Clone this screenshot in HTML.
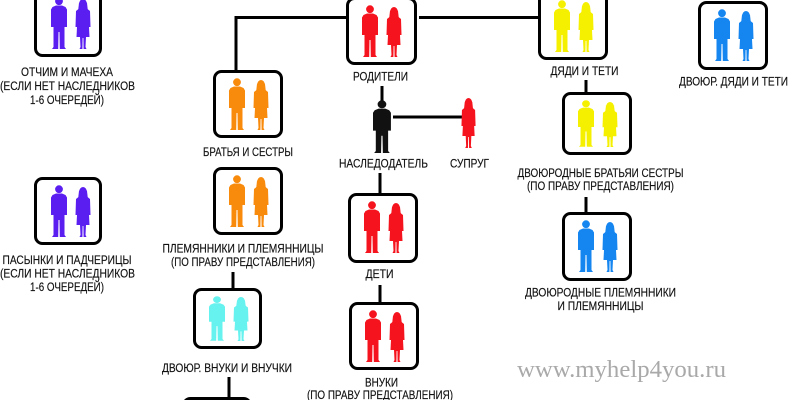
<!DOCTYPE html>
<html><head><meta charset="utf-8">
<style>
html,body{margin:0;padding:0;background:#fff;width:800px;height:400px;overflow:hidden;}
svg{display:block;overflow:hidden;}
text{font-family:"Liberation Sans","Noto Sans CJK SC",sans-serif;font-size:11.5px;fill:#111;stroke:#111;stroke-width:0.15px;}
.wm{font-family:"Liberation Serif",serif;font-size:24px;fill:#a9a9a9;stroke:none;}
</style></head>
<body>
<svg width="800" height="400" viewBox="0 0 800 400" xmlns="http://www.w3.org/2000/svg">
<defs>
<g id="man">
<circle cx="8" cy="4.2" r="3.9"/>
<path d="M5,8.5 L11,8.5 L14.5,10 L16,12.5 L16,30 L13.5,30 L13.5,50 L15,52 L8.8,52 L8.5,35 L7.5,35 L7.2,52 L1,52 L2.5,50 L2.5,30 L0,30 L0,12.5 L1.5,10 Z"/>
</g>
<g id="woman">
<ellipse cx="8" cy="4.8" rx="3.8" ry="4.8"/>
<path d="M4,4 Q8,-1 12,4 L12.8,11 L3.2,11 Z"/>
<path d="M3.5,10 L12.5,10 L15,12 L15.5,28 L14,28 L14.5,38 L11,38 L10.5,48 L11.5,50 L8.6,50 L8.4,39 L7.6,39 L7.4,50 L4.5,50 L5.5,48 L5,38 L1.5,38 L2,28 L0.5,28 L1,12 Z"/>
</g>
</defs>

<!-- connectors -->
<g stroke="#000" stroke-width="3" fill="none">
<path d="M236,70 V17.5 H348"/>
<path d="M419,17.5 H538"/>
<path d="M382,86 V106"/>
<path d="M393,117 H462"/>
<path d="M380,173 V193"/>
<path d="M380,285 V302"/>
<path d="M233,272 V288"/>
<path d="M229,377 V397"/>
<path d="M586,80 V92"/>
<path d="M586,197 V212"/>
</g>

<!-- boxes -->
<g stroke="#000" stroke-width="3" fill="#fff">
<rect x="35.5" y="-9.5" width="65" height="65" rx="7"/>
<rect x="35.5" y="178.5" width="65" height="65" rx="7"/>
<rect x="214.5" y="71.5" width="67" height="65" rx="7"/>
<rect x="214.5" y="168.5" width="67" height="65" rx="7"/>
<rect x="194.5" y="289.5" width="66" height="58" rx="7"/>
<rect x="183.5" y="398.5" width="67" height="20" rx="7"/>
<rect x="347.5" y="-1.5" width="68" height="65" rx="7"/>
<rect x="349.5" y="194.5" width="67" height="67" rx="7"/>
<rect x="350.5" y="303.5" width="67" height="65" rx="7"/>
<rect x="539.5" y="-6.5" width="67" height="65" rx="7"/>
<rect x="563.5" y="93.5" width="67" height="60" rx="7"/>
<rect x="563.5" y="213.5" width="67" height="66" rx="7"/>
<rect x="699.5" y="2.5" width="67" height="66" rx="7"/>
</g>

<!-- figures -->
<g fill="#5a1ef0">
<use href="#man" transform="translate(51,-3)"/>
<use href="#woman" transform="translate(75,-1)"/>
<use href="#man" transform="translate(51,185)"/>
<use href="#woman" transform="translate(75,187)"/>
</g>
<g fill="#f88a0c">
<use href="#man" transform="translate(229,78)"/>
<use href="#woman" transform="translate(253,80)"/>
<use href="#man" transform="translate(229,175)"/>
<use href="#woman" transform="translate(253,177)"/>
</g>
<g fill="#66f2ee">
<use href="#man" transform="translate(209,296) scale(1,0.86)"/>
<use href="#woman" transform="translate(233,297) scale(1,0.88)"/>
</g>
<g fill="#f5141e">
<use href="#man" transform="translate(362,5)"/>
<use href="#woman" transform="translate(386,7)"/>
<use href="#man" transform="translate(364,201)"/>
<use href="#woman" transform="translate(388,203)"/>
<use href="#man" transform="translate(365,310)"/>
<use href="#woman" transform="translate(389,312)"/>
<use href="#woman" transform="translate(461,98) scale(0.94,1)"/>
</g>
<g fill="#111">
<use href="#man" transform="translate(373,100) scale(1.12,1.02)"/>
</g>
<g fill="#f5f000">
<use href="#man" transform="translate(554,0)"/>
<use href="#woman" transform="translate(578,2)"/>
<use href="#man" transform="translate(578,100) scale(1,0.9)"/>
<use href="#woman" transform="translate(602,102) scale(1,0.9)"/>
</g>
<g fill="#1585f0">
<use href="#man" transform="translate(578,220)"/>
<use href="#woman" transform="translate(602,222)"/>
<use href="#man" transform="translate(714,9)"/>
<use href="#woman" transform="translate(738,11)"/>
</g>

<!-- labels -->
<g text-anchor="middle">
<text x="67" y="76" textLength="92" lengthAdjust="spacingAndGlyphs">ОТЧИМ И МАЧЕХА</text>
<text x="67.5" y="90" textLength="135" lengthAdjust="spacingAndGlyphs">(ЕСЛИ НЕТ НАСЛЕДНИКОВ</text>
<text x="67" y="104" textLength="74" lengthAdjust="spacingAndGlyphs">1-6 ОЧЕРЕДЕЙ)</text>

<text x="67" y="264" textLength="129" lengthAdjust="spacingAndGlyphs">ПАСЫНКИ И ПАДЧЕРИЦЫ</text>
<text x="67.5" y="277.5" textLength="135" lengthAdjust="spacingAndGlyphs">(ЕСЛИ НЕТ НАСЛЕДНИКОВ</text>
<text x="67" y="291" textLength="74" lengthAdjust="spacingAndGlyphs">1-6 ОЧЕРЕДЕЙ)</text>

<text x="248" y="156" textLength="90" lengthAdjust="spacingAndGlyphs">БРАТЬЯ И СЕСТРЫ</text>
<text x="243" y="252.5" textLength="161" lengthAdjust="spacingAndGlyphs">ПЛЕМЯННИКИ И ПЛЕМЯННИЦЫ</text>
<text x="243" y="266" textLength="144" lengthAdjust="spacingAndGlyphs">(ПО ПРАВУ ПРЕДСТАВЛЕНИЯ)</text>
<text x="227" y="372" textLength="130" lengthAdjust="spacingAndGlyphs">ДВОЮР. ВНУКИ И ВНУЧКИ</text>

<text x="380.5" y="80.5" textLength="55" lengthAdjust="spacingAndGlyphs">РОДИТЕЛИ</text>
<text x="383.5" y="167.5" textLength="89" lengthAdjust="spacingAndGlyphs">НАСЛЕДОДАТЕЛЬ</text>
<text x="469.5" y="167.5" textLength="39" lengthAdjust="spacingAndGlyphs">СУПРУГ</text>
<text x="379.5" y="278" textLength="28" lengthAdjust="spacingAndGlyphs">ДЕТИ</text>
<text x="381.5" y="386.5" textLength="33" lengthAdjust="spacingAndGlyphs">ВНУКИ</text>
<text x="380" y="399" textLength="146" lengthAdjust="spacingAndGlyphs">(ПО ПРАВУ ПРЕДСТАВЛЕНИЯ)</text>

<text x="584.5" y="75" textLength="68" lengthAdjust="spacingAndGlyphs">ДЯДИ И ТЕТИ</text>
<text x="600.5" y="177" textLength="166" lengthAdjust="spacingAndGlyphs">ДВОЮРОДНЫЕ БРАТЬЯИ СЕСТРЫ</text>
<text x="600.5" y="190" textLength="147" lengthAdjust="spacingAndGlyphs">(ПО ПРАВУ ПРЕДСТАВЛЕНИЯ)</text>
<text x="733.5" y="85.5" textLength="109" lengthAdjust="spacingAndGlyphs">ДВОЮР. ДЯДИ И ТЕТИ</text>
<text x="600.5" y="296.5" textLength="151" lengthAdjust="spacingAndGlyphs">ДВОЮРОДНЫЕ ПЛЕМЯННИКИ</text>
<text x="600.5" y="310" textLength="86" lengthAdjust="spacingAndGlyphs">И ПЛЕМЯННИЦЫ</text>

<text class="wm" x="621.5" y="377" textLength="209" lengthAdjust="spacingAndGlyphs">www.myhelp4you.ru</text>
</g>
</svg>
</body></html>
